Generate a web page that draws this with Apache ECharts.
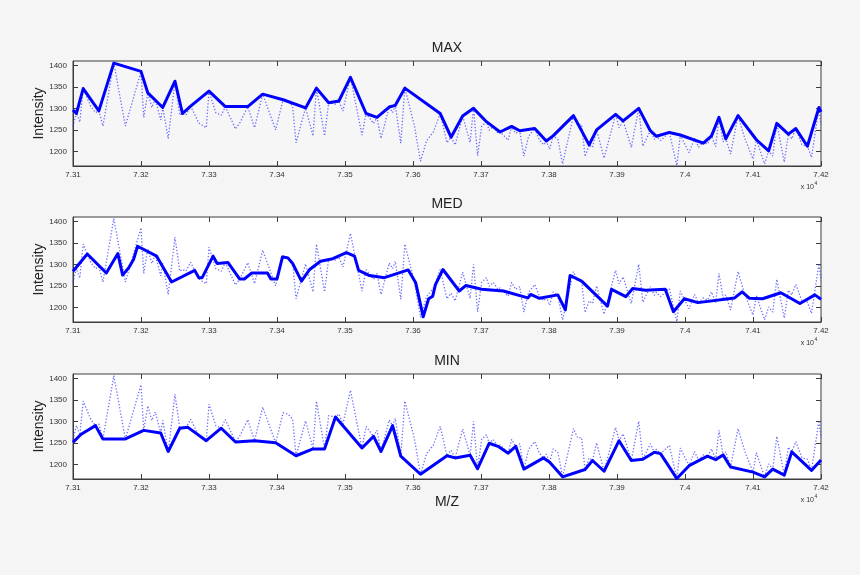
<!DOCTYPE html>
<html>
<head>
<meta charset="utf-8">
<script src="https://cdn.jsdelivr.net/npm/echarts@6/dist/echarts.min.js"></script>
<style>
  html, body { margin: 0; padding: 0; background: #f5f5f5; }
  #chart { width: 860px; height: 575px; }
</style>
</head>
<body>
<div id="chart"></div>
<script>
// ---- data (m/z in Da, intensity) ----
const panelTitles = ['MAX', 'MED', 'MIN'];
const xTicks = [73100, 73200, 73300, 73400, 73500, 73600, 73700, 73800, 73900, 74000, 74100, 74200];
const xTickLabels = ['7.31', '7.32', '7.33', '7.34', '7.35', '7.36', '7.37', '7.38', '7.39', '7.4', '7.41', '7.42'];
const yTicks = [1200, 1250, 1300, 1350, 1400];

const rawMz = [73100,73105,73110,73115,73126,73133,73138,73144,73160,73177,73200,73204,73210,73216,73221,73229,73232,73240,73250,73257,73261,73266,73273,73285,73296,73300,73310,73318,73324,73339,73346,73357,73367,73379,73398,73409,73416,73423,73428,73442,73453,73458,73470,73476,73486,73491,73497,73508,73525,73531,73542,73547,73553,73565,73570,73574,73582,73588,73602,73611,73620,73630,73640,73650,73656,73662,73673,73684,73689,73695,73701,73708,73712,73718,73725,73728,73734,73740,73745,73751,73757,73763,73770,73779,73786,73792,73796,73801,73806,73813,73820,73836,73842,73848,73853,73859,73864,73870,73881,73898,73903,73909,73921,73932,73938,73949,73955,73958,73964,73977,73988,73993,74006,74014,74020,74027,74033,74039,74045,74050,74056,74060,74067,74078,74088,74100,74105,74117,74123,74129,74135,74146,74152,74157,74163,74172,74180,74186,74197,74200];
const rawIntensity = [1258,1290,1268,1347,1305,1290,1294,1259,1406,1259,1385,1279,1336,1302,1322,1273,1302,1230,1363,1284,1288,1284,1305,1266,1255,1340,1290,1284,1304,1252,1268,1304,1255,1333,1250,1320,1317,1305,1220,1301,1236,1347,1236,1313,1310,1317,1294,1372,1238,1288,1265,1279,1230,1303,1290,1307,1219,1347,1260,1177,1225,1245,1288,1220,1233,1215,1282,1221,1300,1190,1258,1269,1249,1258,1242,1245,1236,1226,1258,1242,1248,1189,1235,1253,1226,1215,1224,1205,1236,1228,1171,1283,1262,1262,1188,1215,1209,1250,1184,1286,1255,1271,1209,1300,1212,1248,1228,1235,1225,1244,1167,1238,1197,1230,1210,1222,1217,1236,1211,1279,1222,1229,1194,1283,1230,1182,1227,1171,1201,1189,1265,1175,1240,1229,1253,1215,1212,1186,1302,1262];

const maxMz = [73100,73105,73115,73138,73160,73200,73210,73232,73250,73261,73273,73300,73324,73357,73379,73409,73442,73458,73476,73491,73508,73531,73547,73565,73574,73588,73640,73656,73673,73689,73708,73728,73745,73757,73779,73796,73806,73836,73859,73870,73898,73909,73932,73949,73958,73977,73993,74027,74039,74050,74060,74078,74105,74123,74135,74152,74163,74180,74197,74200];
const maxIntensity = [1296,1288,1346,1294,1405,1386,1336,1302,1363,1288,1305,1340,1304,1304,1333,1320,1301,1347,1313,1317,1372,1288,1279,1303,1307,1347,1288,1233,1282,1300,1269,1245,1258,1248,1253,1224,1236,1283,1215,1250,1286,1271,1300,1248,1235,1244,1238,1219,1236,1279,1229,1283,1227,1201,1265,1240,1253,1212,1302,1292];

const medMz = [73100,73121,73149,73166,73173,73182,73189,73195,73223,73245,73279,73285,73290,73306,73312,73328,73345,73352,73363,73386,73391,73400,73408,73416,73423,73436,73448,73464,73482,73502,73514,73520,73536,73558,73593,73604,73615,73623,73629,73633,73644,73668,73678,73701,73733,73769,73773,73786,73813,73824,73831,73848,73886,73892,73913,73923,73942,73971,73983,73999,74019,74073,74084,74095,74114,74141,74169,74191,74200];
const medIntensity = [1284,1324,1280,1325,1275,1292,1311,1342,1319,1259,1286,1269,1269,1319,1302,1304,1266,1266,1280,1280,1266,1266,1317,1315,1302,1261,1288,1307,1313,1327,1319,1286,1274,1269,1287,1257,1178,1220,1226,1253,1288,1238,1251,1242,1238,1222,1230,1221,1229,1194,1274,1261,1203,1242,1225,1244,1240,1242,1190,1220,1211,1222,1236,1221,1220,1234,1209,1229,1219];

const minMz = [73100,73112,73133,73144,73177,73204,73229,73240,73257,73269,73296,73318,73339,73367,73398,73428,73453,73470,73486,73525,73542,73553,73570,73582,73611,73650,73662,73684,73695,73712,73725,73740,73751,73763,73792,73801,73820,73853,73864,73881,73903,73921,73938,73955,73964,73988,74006,74033,74045,74056,74067,74100,74117,74129,74146,74157,74186,74200];
const minIntensity = [1251,1270,1290,1259,1259,1279,1273,1230,1284,1286,1255,1284,1252,1255,1250,1220,1236,1236,1310,1238,1265,1230,1290,1219,1177,1220,1215,1221,1190,1249,1242,1226,1242,1189,1215,1205,1171,1188,1209,1184,1255,1209,1212,1228,1225,1167,1197,1219,1211,1222,1194,1182,1171,1189,1175,1229,1186,1210];

// ---- build chart ----
const FONT = '"Liberation Sans", Arial, Helvetica, sans-serif';
const pair = (xs, ys) => xs.map((x, i) => [x, ys[i]]);
const envelopes = [pair(maxMz, maxIntensity), pair(medMz, medIntensity), pair(minMz, minIntensity)];
const raw = pair(rawMz, rawIntensity);

const gridTops = [61, 217, 374];
const gridH = 105;
const gridBgs = ['#f6f6f6', '#ffffff', '#ffffff'];

const grids = [], xAxes = [], yAxes = [], series = [], graphics = [];
gridTops.forEach((top, i) => {
  grids.push({
    left: 73, width: 748, top: top, height: gridH,
    show: true, backgroundColor: gridBgs[i], borderColor: '#3c3c3c', borderWidth: 1
  });
  const xIdx = xAxes.length;
  xAxes.push({
    type: 'value', gridIndex: i, position: 'bottom', min: 73100, max: 74200, interval: 100,
    axisLine: { show: true, lineStyle: { color: '#3c3c3c', width: 1 } },
    axisTick: { show: true, inside: true, length: 5, lineStyle: { color: '#3c3c3c' } },
    splitLine: { show: false },
    axisLabel: {
      color: '#333', fontSize: 8, fontFamily: FONT, margin: 5,
      formatter: v => { const k = xTicks.indexOf(v); return k >= 0 ? xTickLabels[k] : ''; }
    }
  });
  xAxes.push({
    type: 'value', gridIndex: i, position: 'top', min: 73100, max: 74200, interval: 100,
    axisLine: { show: false },
    axisTick: { show: true, inside: true, length: 5, lineStyle: { color: '#3c3c3c' } },
    axisLabel: { show: false }, splitLine: { show: false }
  });
  const yIdx = yAxes.length;
  yAxes.push({
    type: 'value', gridIndex: i, position: 'left', min: 1166, max: 1410,
    axisLine: { show: true, lineStyle: { color: '#3c3c3c', width: 1 } },
    axisTick: { show: true, inside: true, length: 5, customValues: yTicks, lineStyle: { color: '#3c3c3c' } },
    axisLabel: { color: '#333', fontSize: 8, fontFamily: FONT, margin: 6, customValues: yTicks,
      formatter: v => String(v) },
    splitLine: { show: false }
  });
  yAxes.push({
    type: 'value', gridIndex: i, position: 'right', min: 1166, max: 1410,
    axisLine: { show: false },
    axisTick: { show: true, inside: true, length: 5, customValues: yTicks, lineStyle: { color: '#3c3c3c' } },
    axisLabel: { show: false, customValues: yTicks }, splitLine: { show: false }
  });
  series.push({
    type: 'line', xAxisIndex: xIdx, yAxisIndex: yIdx, data: raw, symbol: 'none', silent: true,
    lineStyle: { color: 'rgba(60,60,255,0.75)', width: 1.3, type: [1.3, 1.9] }, z: 2
  });
  series.push({
    type: 'line', xAxisIndex: xIdx, yAxisIndex: yIdx, data: envelopes[i], symbol: 'none', silent: true,
    lineStyle: { color: '#0000ff', width: 3, join: 'round' }, z: 3
  });
  graphics.push({
    type: 'text', x: 447, y: top - 20,
    style: { text: panelTitles[i], font: '14px ' + FONT, fill: '#222', textAlign: 'center', textVerticalAlign: 'top' }
  });
  graphics.push({
    type: 'text', x: 39, y: top + gridH / 2, rotation: Math.PI / 2,
    style: { text: 'Intensity', font: '14px ' + FONT, fill: '#222', textAlign: 'center', textVerticalAlign: 'middle' }
  });
  graphics.push({
    type: 'text', x: 814, y: top + gridH + 21,
    style: { text: 'x 10', font: '7px ' + FONT, fill: '#333', textAlign: 'right', textVerticalAlign: 'middle' }
  });
  graphics.push({
    type: 'text', x: 814.5, y: top + gridH + 17.5,
    style: { text: '4', font: '5px ' + FONT, fill: '#333', textAlign: 'left', textVerticalAlign: 'middle' }
  });
});
graphics.push({
  type: 'text', x: 447, y: 495,
  style: { text: 'M/Z', font: '14px ' + FONT, fill: '#222', textAlign: 'center', textVerticalAlign: 'top' }
});

const chart = echarts.init(document.getElementById('chart'), null, { renderer: 'canvas' });
chart.setOption({
  backgroundColor: '#f5f5f5',
  animation: false,
  grid: grids,
  xAxis: xAxes,
  yAxis: yAxes,
  series: series,
  graphic: graphics
});
</script>
</body>
</html>
